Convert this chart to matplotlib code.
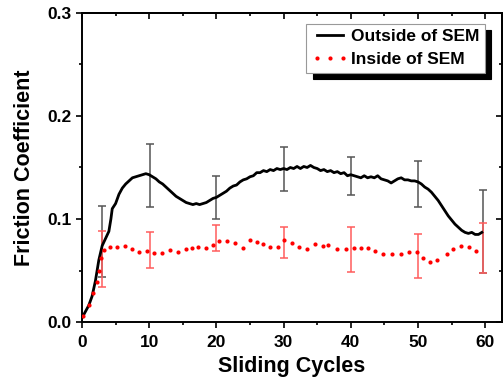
import matplotlib
matplotlib.use("Agg")
import matplotlib.pyplot as plt
from matplotlib.ticker import MultipleLocator

plt.rcParams['font.family'] = ['Liberation Sans', 'DejaVu Sans']
plt.rcParams['font.weight'] = 'bold'

# Outside of SEM (black solid curve)
out_x = [0, 0.5, 1.0, 1.5, 2.0, 2.5, 3.0, 3.5, 4.0, 4.3, 4.5, 5.0, 5.5, 6.0, 6.5, 7.0, 7.5, 8.0, 8.5, 9.0,
         9.5, 10.0, 10.5, 11.0, 11.5, 12.0, 12.5, 13.0, 13.5, 14.0, 14.5, 15.0, 15.5, 16.0, 16.5, 17.0, 17.5,
         18.0, 18.5, 19.0, 19.5, 20.0, 20.5, 21.0, 21.5, 22.0, 22.5, 23.0, 23.5, 24.0, 24.5, 25.0, 25.5, 26.0,
         26.5, 27.0, 27.5, 28.0, 28.5, 29.0, 29.5, 30.0, 30.5, 31.0, 31.5, 32.0, 32.5, 33.0, 33.5, 34.0, 34.5,
         35.0, 35.5, 36.0, 36.5, 37.0, 37.5, 38.0, 38.5, 39.0, 39.5, 40.0, 40.5, 41.0, 41.5, 42.0, 42.5, 43.0,
         43.5, 44.0, 44.5, 45.0, 45.5, 46.0, 46.5, 47.0, 47.5, 48.0, 48.5, 49.0, 49.5, 50.0, 50.5, 51.0, 51.5,
         52.0, 52.5, 53.0, 53.5, 54.0, 54.5, 55.0, 55.5, 56.0, 56.5, 57.0, 57.5, 58.0, 58.5, 59.0, 59.5]
out_y = [0.004, 0.010, 0.016, 0.025, 0.040, 0.060, 0.074, 0.081, 0.088, 0.100, 0.110, 0.115, 0.124, 0.130,
         0.134, 0.137, 0.140, 0.141, 0.142, 0.143, 0.144, 0.143, 0.141, 0.139, 0.136, 0.134, 0.131, 0.128,
         0.125, 0.122, 0.120, 0.118, 0.116, 0.115, 0.114, 0.115, 0.114, 0.115, 0.116, 0.118, 0.120, 0.121,
         0.123, 0.125, 0.127, 0.130, 0.132, 0.133, 0.136, 0.138, 0.139, 0.141, 0.142, 0.145, 0.145, 0.147,
         0.146, 0.148, 0.147, 0.149, 0.148, 0.149, 0.148, 0.150, 0.149, 0.151, 0.149, 0.151, 0.150, 0.152,
         0.150, 0.149, 0.147, 0.148, 0.146, 0.147, 0.145, 0.146, 0.144, 0.145, 0.142, 0.143, 0.142, 0.141,
         0.140, 0.142, 0.140, 0.141, 0.140, 0.142, 0.139, 0.138, 0.137, 0.135, 0.137, 0.139, 0.140, 0.138,
         0.138, 0.137, 0.137, 0.136, 0.134, 0.131, 0.129, 0.126, 0.122, 0.118, 0.113, 0.108, 0.103, 0.099,
         0.095, 0.092, 0.089, 0.087, 0.086, 0.087, 0.085, 0.085, 0.087]

# Inside of SEM (red dotted)
in_x = [0.2, 1.0, 1.7, 2.2, 2.5, 2.9, 3.3, 4.1, 5.25, 6.4, 7.4, 8.5, 9.6, 10.7, 11.9, 13.1, 14.3, 15.5,
        16.3, 17.3, 18.45, 19.5, 20.4, 21.6, 22.8, 23.9, 25.0, 26.0, 26.9, 28.0, 29.1, 30.0, 31.2, 32.3,
        33.5, 34.7, 35.8, 36.65, 38.0, 39.3, 40.5, 41.5, 42.6, 43.6, 44.8, 46.2, 47.5, 48.6, 49.8, 50.7,
        51.8, 52.9, 54.3, 55.25, 56.4, 57.6, 58.7]
in_y = [0.006, 0.0165, 0.028, 0.039, 0.050, 0.062, 0.070, 0.073, 0.0725, 0.0738, 0.0706, 0.068, 0.069,
        0.067, 0.0667, 0.070, 0.068, 0.0706, 0.0715, 0.0725, 0.0715, 0.0752, 0.079, 0.079, 0.0764, 0.0715,
        0.080, 0.0774, 0.0754, 0.0725, 0.0731, 0.0796, 0.0764, 0.0725, 0.0709, 0.0757, 0.0741, 0.0748,
        0.0709, 0.0706, 0.0715, 0.0715, 0.0722, 0.0692, 0.066, 0.0657, 0.066, 0.0676, 0.0683, 0.0625,
        0.058, 0.0602, 0.066, 0.0709, 0.0738, 0.0725, 0.0689]

# Error bars
err_x = [3.05, 10.05, 20.0, 30.05, 40.1, 50.05, 59.6]
out_err_y = [0.078, 0.1424, 0.121, 0.1483, 0.1419, 0.134, 0.0878]
out_err = [0.0346, 0.0304, 0.0212, 0.0213, 0.0186, 0.0227, 0.0403]
in_err_y = [0.061, 0.0695, 0.0815, 0.0775, 0.0708, 0.0642, 0.0715]
in_err = [0.0273, 0.0175, 0.0125, 0.015, 0.0218, 0.0212, 0.0243]

fig = plt.figure(figsize=(5.04, 3.80), dpi=100)
ax = fig.add_axes([82/504, 1-322/380, 420/504, 309/380])

ax.errorbar(err_x, out_err_y, yerr=out_err, fmt='none', ecolor='#555555', elinewidth=1.1,
            capsize=3, capthick=1.1, zorder=2)
ax.errorbar(err_x, in_err_y, yerr=in_err, fmt='none', ecolor='#ff5c5c', elinewidth=1.1,
            capsize=3, capthick=1.1, zorder=2)
ax.plot(out_x, out_y, color='black', lw=2.0, label='Outside of SEM', zorder=3)
ax.plot(in_x, in_y, linestyle='none', marker='o', ms=3.0, mec='none', mfc='red',
        label='Inside of SEM', zorder=3)

ax.set_xlim(0, 62.5)
ax.set_ylim(0, 0.3)
ax.xaxis.set_major_locator(MultipleLocator(10))
ax.xaxis.set_minor_locator(MultipleLocator(5))
ax.yaxis.set_major_locator(MultipleLocator(0.1))
ax.yaxis.set_minor_locator(MultipleLocator(0.05))
ax.yaxis.set_major_formatter(matplotlib.ticker.FormatStrFormatter('%.1f'))

for s in ax.spines.values():
    s.set_linewidth(1.4)
ax.tick_params(which='both', direction='out', width=1.2, labelsize=12.5)
ax.tick_params(axis='x', pad=5)
ax.tick_params(axis='y', pad=3)
ax.tick_params(which='major', length=4.5)
ax.tick_params(which='minor', length=2.5)
# mirrored inward ticks on top/right
axt = ax.secondary_xaxis('top')
axt.xaxis.set_major_locator(MultipleLocator(10))
axt.xaxis.set_minor_locator(MultipleLocator(5))
axt.tick_params(which='both', direction='in', width=1.2, labeltop=False)
axt.tick_params(which='major', length=4.5)
axt.tick_params(which='minor', length=2.5)
axr = ax.secondary_yaxis('right')
axr.yaxis.set_major_locator(MultipleLocator(0.1))
axr.yaxis.set_minor_locator(MultipleLocator(0.05))
axr.tick_params(which='both', direction='in', width=1.2, labelright=False)
axr.tick_params(which='major', length=4.5)
axr.tick_params(which='minor', length=2.5)
for s in list(axt.spines.values()) + list(axr.spines.values()):
    s.set_linewidth(1.4)

ax.set_xlabel('Sliding Cycles', fontsize=15.5, fontweight='bold', labelpad=4)
ax.set_ylabel('Friction Coefficient', fontsize=15.5, fontweight='bold')
ax.yaxis.set_label_coords((35 - 82) / 420, 0.5)

leg = ax.legend(loc='upper right', bbox_to_anchor=(485/504, 1-24/380), bbox_transform=fig.transFigure,
                borderaxespad=0, fontsize=12.5, handlelength=2.1, handletextpad=0.2, labelspacing=0.45,
                borderpad=0.3, numpoints=3, fancybox=False, framealpha=1,
                shadow={'ox': 4.5, 'oy': -4.5, 'color': 'black', 'alpha': 1})
leg.get_frame().set_edgecolor('#999999')
leg.get_frame().set_linewidth(0.8)
for t in leg.get_texts():
    t.set_fontweight('bold')

fig.savefig('out.png', dpi=100)
